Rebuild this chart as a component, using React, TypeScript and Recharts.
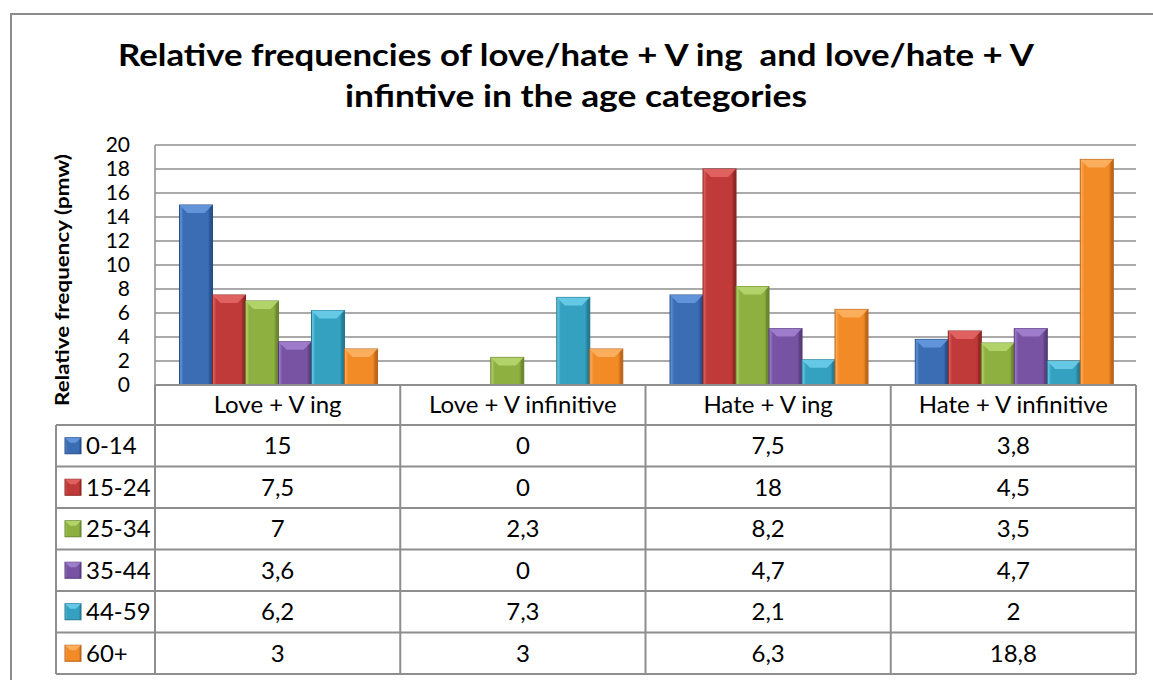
import React from 'react'
import { BarChart, Bar, XAxis, YAxis, CartesianGrid } from 'recharts'

// categories on the x axis (also the table header)
const categories = ['Love + V ing', 'Love + V infinitive', 'Hate + V ing', 'Hate + V infinitive']

// age groups (series)
const ageGroups = ['0-14', '15-24', '25-34', '35-44', '44-59', '60+']

// relative frequency (pmw) per category, one array per age group
const age0to14 = [15, 0, 7.5, 3.8]
const age15to24 = [7.5, 0, 18, 4.5]
const age25to34 = [7, 2.3, 8.2, 3.5]
const age35to44 = [3.6, 0, 4.7, 4.7]
const age44to59 = [6.2, 7.3, 2.1, 2]
const age60plus = [3, 3, 6.3, 18.8]

const yTicks = [0, 2, 4, 6, 8, 10, 12, 14, 16, 18, 20]

const seriesValues = [age0to14, age15to24, age25to34, age35to44, age44to59, age60plus]

const palette = [
  { base: '#3a6db4', light: '#6a9be0', dark: '#244d86' },
  { base: '#bf3a38', light: '#e46a68', dark: '#8a2523' },
  { base: '#8db041', light: '#b8d872', dark: '#66842c' },
  { base: '#7853a3', light: '#a584d2', dark: '#553a78' },
  { base: '#33a1bf', light: '#6fd0ec', dark: '#22768e' },
  { base: '#f28a26', light: '#fdb466', dark: '#b9631a' },
]

const data = categories.map((c, i) => {
  const row: Record<string, string | number> = { category: c }
  ageGroups.forEach((g, j) => {
    row[g] = seriesValues[j][i]
  })
  return row
})

const W = 1153
const H = 680
const plotLeft = 155
const plotRight = 1136
const plotTop = 145
const plotBottom = 385
const headerBottom = 425
const rowH = 41.5
const legendLeft = 56
const colW = (plotRight - plotLeft) / categories.length
const gridColor = '#8e8e8e'
const font = 'Lato, "Open Sans", sans-serif'

const fmt = (v: number) => String(v).replace('.', ',')

function BevelBar(props: any) {
  const { x, y, width, height, idx } = props
  if (!height || height <= 0) return null
  const c = palette[idx]
  const b = Math.min(8, height / 2, width / 2)
  return (
    <g>
      <rect x={x} y={y} width={width} height={height} fill={`url(#barGrad${idx})`} stroke={c.dark} strokeWidth={1} />
      <polygon
        points={`${x},${y} ${x + width},${y} ${x + width - b},${y + b} ${x + b},${y + b}`}
        fill={c.light}
        opacity={0.85}
      />
      <polygon
        points={`${x + width},${y} ${x + width},${y + height} ${x + width - 3},${y + height} ${x + width - 3},${y + 3}`}
        fill={c.dark}
        opacity={0.5}
      />
    </g>
  )
}

function LegendKey({ x, y, idx }: { x: number; y: number; idx: number }) {
  const c = palette[idx]
  const s = 16
  const b = 5
  return (
    <g>
      <rect x={x} y={y} width={s} height={s} fill={`url(#barGrad${idx})`} stroke={c.dark} strokeWidth={1} />
      <polygon points={`${x},${y} ${x + s},${y} ${x + s - b},${y + b} ${x + b},${y + b}`} fill={c.light} opacity={0.85} />
    </g>
  )
}

export default function App() {
  const vLines = [plotLeft, ...categories.map((_, i) => plotLeft + colW * (i + 1))]
  const lastRowBottom = headerBottom + rowH * ageGroups.length
  return (
    <div style={{ position: 'absolute', left: 0, top: 0, width: W, height: H, overflow: 'hidden', background: '#fff' }}>
      <div
        style={{
          position: 'absolute',
          left: 10,
          top: 13,
          width: 2000,
          height: 2000,
          borderLeft: '2px solid #8c8c8c',
          borderTop: '2px solid #8c8c8c',
        }}
      />
      <div style={{ position: 'absolute', left: 0, top: 0 }}>
        <BarChart
          width={W}
          height={H}
          data={data}
          margin={{ top: plotTop, right: W - plotRight, bottom: H - plotBottom, left: plotLeft - 60 }}
          barCategoryGap="10%"
          barGap={0}
        >
          <defs>
            {palette.map((c, i) => (
              <linearGradient key={i} id={`barGrad${i}`} x1="0" y1="0" x2="1" y2="0">
                <stop offset="0%" stopColor={c.light} />
                <stop offset="12%" stopColor={c.base} />
                <stop offset="85%" stopColor={c.base} />
                <stop offset="100%" stopColor={c.dark} />
              </linearGradient>
            ))}
          </defs>
          <CartesianGrid vertical={false} stroke={gridColor} strokeWidth={1.5} />
          <XAxis dataKey="category" hide />
          <YAxis
            width={60}
            domain={[0, 20]}
            ticks={yTicks}
            interval={0}
            tickLine={false}
            tickSize={0}
            tickMargin={25}
            axisLine={{ stroke: gridColor, strokeWidth: 1.5 }}
            tick={{ fill: '#000', fontSize: 21, fontFamily: font }}
          />
          {ageGroups.map((g, j) => (
            <Bar
              key={g}
              dataKey={g}
              isAnimationActive={false}
              fill={palette[j].base}
              shape={(p: any) => <BevelBar {...p} idx={j} />}
            />
          ))}
        </BarChart>
      </div>
      <svg width={W} height={H} style={{ position: 'absolute', left: 0, top: 0, pointerEvents: 'none' }}>
        <defs>
          {palette.map((c, i) => (
            <linearGradient key={i} id={`barGrad${i}`} x1="0" y1="0" x2="1" y2="0">
              <stop offset="0%" stopColor={c.light} />
              <stop offset="12%" stopColor={c.base} />
              <stop offset="85%" stopColor={c.base} />
              <stop offset="100%" stopColor={c.dark} />
            </linearGradient>
          ))}
        </defs>
        <text
          x={576}
          y={66}
          textAnchor="middle"
          fontFamily={font}
          fontWeight="bold"
          fontSize={30}
          textLength={916}
          lengthAdjust="spacingAndGlyphs"
          style={{ whiteSpace: 'pre' }}
        >
          Relative frequencies of love/hate + V ing  and love/hate + V
        </text>
        <text
          x={576}
          y={107}
          textAnchor="middle"
          fontFamily={font}
          fontWeight="bold"
          fontSize={30}
          textLength={462}
          lengthAdjust="spacingAndGlyphs"
        >
          infintive in the age categories
        </text>
        <text
          transform="translate(69,280) rotate(-90)"
          textAnchor="middle"
          fontFamily={font}
          fontWeight="bold"
          fontSize={19}
          textLength={252}
          lengthAdjust="spacingAndGlyphs"
        >
          Relative frequency (pmw)
        </text>
        {/* data table */}
        <line x1={plotLeft} y1={plotBottom} x2={plotRight} y2={plotBottom} stroke={gridColor} strokeWidth={2} />
        {[0, ...ageGroups.map((_, i) => i + 1)].map((i) => (
          <line
            key={'h' + i}
            x1={legendLeft}
            x2={plotRight}
            y1={headerBottom + rowH * i}
            y2={headerBottom + rowH * i}
            stroke={gridColor}
            strokeWidth={2}
          />
        ))}
        <line x1={legendLeft} x2={legendLeft} y1={headerBottom} y2={lastRowBottom} stroke={gridColor} strokeWidth={2} />
        {vLines.map((x, i) => (
          <line key={'v' + i} x1={x} x2={x} y1={plotBottom} y2={lastRowBottom} stroke={gridColor} strokeWidth={2} />
        ))}
        {categories.map((c, i) => (
          <text
            key={c}
            x={plotLeft + colW * (i + 0.5)}
            y={(plotBottom + headerBottom) / 2}
            dy="0.35em"
            textAnchor="middle"
            fontFamily={font}
            fontSize={24}
          >
            {c}
          </text>
        ))}
        {ageGroups.map((g, j) => {
          const cy = headerBottom + rowH * (j + 0.5)
          return (
            <g key={g}>
              <LegendKey x={65} y={cy - 8} idx={j} />
              <text x={86} y={cy} dy="0.35em" fontFamily={font} fontSize={24}>
                {g}
              </text>
              {seriesValues[j].map((v, i) => (
                <text
                  key={i}
                  x={plotLeft + colW * (i + 0.5)}
                  y={cy}
                  dy="0.35em"
                  textAnchor="middle"
                  fontFamily={font}
                  fontSize={24}
                >
                  {fmt(v)}
                </text>
              ))}
            </g>
          )
        })}
      </svg>
    </div>
  )
}
